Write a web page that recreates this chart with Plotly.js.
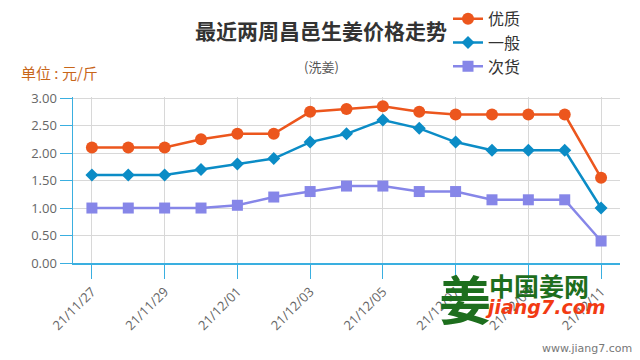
<!DOCTYPE html>
<html><head><meta charset="utf-8">
<script src="https://cdn.plot.ly/plotly-3.0.1.min.js"></script>
<style>html,body{margin:0;padding:0;background:#fff}#c{width:640px;height:360px}</style>
</head><body><div id="c"></div>
<script>
const dates = ["21/11/27","21/11/28","21/11/29","21/11/30","21/12/01","21/12/02","21/12/03","21/12/04","21/12/05","21/12/06","21/12/07","21/12/08","21/12/09","21/12/10","21/12/11"];
const tickLabels = ["21/11/27","21/11/29","21/12/01","21/12/03","21/12/05","21/12/07","21/12/09","21/12/11"];
const youzhi = [2.10,2.10,2.10,2.25,2.35,2.35,2.75,2.80,2.85,2.75,2.70,2.70,2.70,2.70,1.55];
const yiban  = [1.60,1.60,1.60,1.70,1.80,1.90,2.20,2.35,2.60,2.45,2.20,2.05,2.05,2.05,1.00];
const cihuo  = [1.00,1.00,1.00,1.00,1.05,1.20,1.30,1.40,1.40,1.30,1.30,1.15,1.15,1.15,0.40];
const yTicks = [0,0.5,1,1.5,2,2.5,3];
const F = '"Noto Sans CJK SC", "Noto Sans", sans-serif';

const traces = [
 {x:dates,y:youzhi,name:'优质',type:'scatter',mode:'lines+markers',line:{color:'#ec561d',width:2.5},marker:{symbol:'circle',size:12,color:'#ec561d'}},
 {x:dates,y:yiban,name:'一般',type:'scatter',mode:'lines+markers',line:{color:'#0b8cc6',width:2.5},marker:{symbol:'diamond',size:10,color:'#0b8cc6'}},
 {x:dates,y:cihuo,name:'次货',type:'scatter',mode:'lines+markers',line:{color:'#8686e8',width:2.5},marker:{symbol:'square',size:11,color:'#8686e8'}}
];
const layout = {
 width:640,height:360,
 margin:{l:73,r:20,t:97,b:97,autoexpand:false},
 paper_bgcolor:'#fff',plot_bgcolor:'#fff',
 font:{family:F,color:'#666'},
 showlegend:true,
 legend:{xref:'container',yref:'container',x:0.7,y:0.995,xanchor:'left',yanchor:'top',orientation:'v',font:{size:16,color:'#333',family:F},itemwidth:30,bgcolor:'rgba(0,0,0,0)'},
 xaxis:{type:'category',range:[-0.52,14.52],tickmode:'array',tickvals:tickLabels,ticktext:tickLabels,tickangle:-45,
   showgrid:true,gridcolor:'#d8d8d8',gridwidth:1,showline:true,linecolor:'#3aafe0',linewidth:2,
   ticks:'outside',ticklen:14,tickcolor:'#3aafe0',tickwidth:1,tickfont:{size:13,color:'#666',family:'"Open Sans", sans-serif'},zeroline:false,fixedrange:true,automargin:false},
 yaxis:{range:[0,3.02],tickvals:yTicks,tickformat:'.2f',showgrid:true,gridcolor:'#d8d8d8',gridwidth:1,
   showline:true,linecolor:'#3aafe0',linewidth:1.5,ticks:'outside',ticklen:12,tickcolor:'#3aafe0',tickwidth:1,
   tickfont:{size:13,color:'#666',family:'"Open Sans", sans-serif'},zeroline:false,fixedrange:true,automargin:false},
 annotations:[
  {text:'<b>最近两周昌邑生姜价格走势</b>',xref:'paper',yref:'paper',x:0.4534,y:1.404,xanchor:'center',yanchor:'middle',showarrow:false,font:{size:21,color:'#333',family:F}},
  {text:'(洗姜)',xref:'paper',yref:'paper',x:0.4534,y:1.181,xanchor:'center',yanchor:'middle',showarrow:false,font:{size:13,color:'#555',family:F}},
  {text:'单位 : 元/斤',xref:'paper',yref:'paper',x:-0.098,y:1.15,xanchor:'left',yanchor:'middle',showarrow:false,font:{size:15,color:'#c8661a',family:F}},
  {text:'<b>姜</b>',xref:'paper',yref:'paper',x:0.717,y:-0.21,xanchor:'center',yanchor:'middle',showarrow:false,font:{size:52,color:'#1d6e1d',family:F}},
  {text:'<b>中国姜网</b>',xref:'paper',yref:'paper',x:0.757,y:-0.133,xanchor:'left',yanchor:'middle',showarrow:false,font:{size:25,color:'#1d6e1d',family:F}},
  {text:'<b><i>jiang7.com</i></b>',xref:'paper',yref:'paper',x:0.75,y:-0.265,xanchor:'left',yanchor:'middle',showarrow:false,font:{size:19,color:'#f23a12',family:'"DejaVu Sans", sans-serif'}},
  {text:'www.jiang7.com',xref:'paper',yref:'paper',x:1.025,y:-0.515,xanchor:'right',yanchor:'middle',showarrow:false,font:{size:11,color:'#777',family:'"DejaVu Sans", sans-serif'}}
 ]
};
Plotly.newPlot('c',traces,layout,{displayModeBar:false,staticPlot:true});
</script></body></html>
